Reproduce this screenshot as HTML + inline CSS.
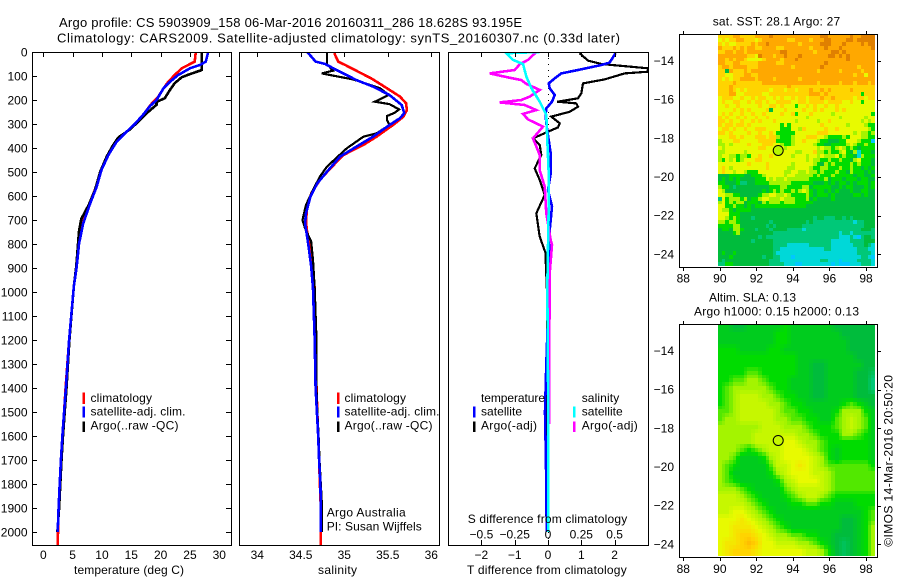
<!DOCTYPE html>
<html lang="en">
<head>
<meta charset="utf-8">
<title>Argo profile</title>
<style>
html,body{margin:0;padding:0;background:#fff;}
svg{display:block;}
text{font-family:"Liberation Sans",Arial,sans-serif;font-size:12px;fill:#000;}
.t{font-size:13px;}
</style>
</head>
<body>
<svg id="chart" xmlns="http://www.w3.org/2000/svg" width="900" height="580" viewBox="0 0 900 580">
<rect x="0" y="0" width="900" height="580" fill="#fff"/>
<text class="t" x="59" y="27" textLength="463" lengthAdjust="spacing">Argo profile: CS 5903909_158 06-Mar-2016 20160311_286 18.628S 93.195E</text>
<text class="t" x="57" y="42.5" textLength="563" lengthAdjust="spacing">Climatology: CARS2009. Satellite-adjusted climatology: synTS_20160307.nc (0.33d later)</text>

<g id="p1"></g>
<g id="p2"></g>
<g id="p3"></g>
<g id="m1"></g>
<g id="m2"></g>

<g>
<rect x="82.5" y="392.5" width="2.5" height="11.5" fill="#f00"/>
<rect x="82.5" y="406.5" width="2.5" height="11" fill="#00f"/>
<rect x="82.5" y="421.5" width="2.5" height="10.5" fill="#000"/>
<text x="90.5" y="402" textLength="61.5" lengthAdjust="spacing">climatology</text>
<text x="90.5" y="415.5" textLength="95" lengthAdjust="spacing">satellite-adj. clim.</text>
<text x="90.5" y="429.5" textLength="88" lengthAdjust="spacing">Argo(..raw -QC)</text>
</g>
<g>
<rect x="337" y="392.5" width="2.5" height="11.5" fill="#f00"/>
<rect x="337" y="406.5" width="2.5" height="11" fill="#00f"/>
<rect x="337" y="421.5" width="2.5" height="10.5" fill="#000"/>
<text x="344.5" y="402" textLength="61.5" lengthAdjust="spacing">climatology</text>
<text x="344.5" y="415.5" textLength="95" lengthAdjust="spacing">satellite-adj. clim.</text>
<text x="344.5" y="429.5" textLength="88" lengthAdjust="spacing">Argo(..raw -QC)</text>
<text x="326.7" y="516.7" textLength="79" lengthAdjust="spacing">Argo Australia</text>
<text x="326.7" y="530.7" textLength="95" lengthAdjust="spacing">PI: Susan Wijffels</text>
</g>
<g>
<text x="481" y="402" textLength="64" lengthAdjust="spacing">temperature</text>
<rect x="473" y="406.5" width="2.5" height="11" fill="#00f"/>
<text x="481" y="415.5" textLength="41" lengthAdjust="spacing">satellite</text>
<rect x="473" y="421.5" width="2.5" height="10.5" fill="#000"/>
<text x="481" y="429.5" textLength="56" lengthAdjust="spacing">Argo(-adj)</text>
<text x="581.7" y="402" textLength="37.5" lengthAdjust="spacing">salinity</text>
<rect x="573" y="406.5" width="2.5" height="11" fill="#0ff"/>
<text x="581.7" y="415.5" textLength="41" lengthAdjust="spacing">satellite</text>
<rect x="573" y="421.5" width="2.5" height="10.5" fill="#f0f"/>
<text x="581.7" y="429.5" textLength="56" lengthAdjust="spacing">Argo(-adj)</text>
</g>
<text x="74" y="574" textLength="110" lengthAdjust="spacing">temperature (deg C)</text>
<text x="318" y="574" textLength="39" lengthAdjust="spacing">salinity</text>
<text x="467.7" y="523" textLength="159.5" lengthAdjust="spacing">S difference from climatology</text>
<text x="467" y="574" textLength="159.7" lengthAdjust="spacing">T difference from climatology</text>
<text x="712.7" y="25.7" textLength="127.5" lengthAdjust="spacing">sat. SST: 28.1  Argo: 27</text>
<text x="709" y="301.7" textLength="87" lengthAdjust="spacing">Altim. SLA: 0.13</text>
<text x="694" y="315.7" textLength="165" lengthAdjust="spacing">Argo h1000: 0.15 h2000: 0.13</text>
<text transform="translate(892.5 546.7) rotate(-90)" x="0" y="0" textLength="171.7" lengthAdjust="spacing">©IMOS 14-Mar-2016 20:50:20</text>
</svg>
<script>
// ---------- profile data ----------
const depthTicks=[0,100,200,300,400,500,600,700,800,900,1000,1100,1200,1300,1400,1500,1600,1700,1800,1900,2000];
const tempTicks=[0,5,10,15,20,25,30];
const salTicks=[34,34.5,35,35.5,36];
const tDiffTicks=[-2,-1,0,1,2];
const sDiffTicks=[-0.5,-0.25,0,0.25,0.5];
const lonTicks=[88,90,92,94,96,98];
const latTicks=[-14,-16,-18,-20,-22,-24];

const tempClimDepth=[0,40,54,68,96,124,151,186,214,262,300,332,374,429,492,561,631,700,797,894,978,1200,1400,1500,1600,1700,1800,1900,2000,2054];
const tempClim=[26.0,25.8,24.7,23.6,22.4,21.3,20.5,19.6,18.5,17.0,15.6,14.2,12.5,11.1,9.8,9.0,7.9,6.9,6.1,5.7,5.2,4.4,3.8,3.55,3.25,3.0,2.8,2.6,2.5,2.45];
const tempSatDepth=[0,40,54,68,96,124,151,200,225,262,300,332,374,429,492,561,631,714,797,894,978,1200,1400,1500,1600,1700,1800,1900,2000];
const tempSat=[28.1,27.7,26.7,25.0,23.0,21.6,20.5,19.3,18.2,17.0,15.6,14.2,12.5,11.1,9.9,9.1,8.0,6.8,6.1,5.7,5.2,4.4,3.85,3.55,3.25,3.0,2.8,2.6,2.45];
const tempArgoDepth=[0,75,78,92,105,130,158,193,208,220,249,290,322,356,388,436,499,576,639,694,743,840,896,978,1200,1400,1500,1600,1700,1800,1900,2000];
const tempArgo=[27.0,27.0,26.7,25.0,23.6,22.4,21.6,20.7,19.3,19.3,17.9,16.2,14.8,12.8,11.9,10.8,9.7,8.8,7.7,6.5,6.1,5.8,5.6,5.2,4.45,3.95,3.65,3.35,3.1,2.9,2.7,2.4];

const salClimDepth=[5,40,54,82,110,151,186,214,242,269,304,353,387,429,485,533,589,658,707,742,825,922,985,1200,1400,1500,1600,1700,1800,1900,2000,2054];
const salClim=[34.885,34.93,35.01,35.16,35.31,35.49,35.64,35.71,35.72,35.68,35.56,35.37,35.22,34.99,34.84,34.72,34.62,34.57,34.56,34.57,34.61,34.64,34.66,34.67,34.68,34.69,34.70,34.71,34.72,34.73,34.73,34.73];
const salSatDepth=[0,40,50,75,117,144,179,221,255,276,304,353,394,436,499,547,603,672,714,811,894,985,1200,1400,1500,1600,1700,1800,1900,2000];
const salSat=[34.575,34.67,34.78,34.91,35.14,35.33,35.52,35.66,35.69,35.64,35.52,35.33,35.14,34.95,34.80,34.69,34.61,34.56,34.55,34.59,34.62,34.64,34.66,34.67,34.685,34.70,34.71,34.725,34.73,34.73];
const salArgoDepth=[0,50,78,89,96,114,128,151,179,207,217,239,253,267,283,304,339,353,401,478,519,575,637,700,735,790,867,985,1200,1400,1500,1600,1700,1800,1900,2000];
const salArgo=[34.80,34.80,34.87,34.74,34.835,35.10,35.22,35.41,35.51,35.35,35.52,35.63,35.58,35.49,35.49,35.52,35.37,35.22,35.03,34.80,34.72,34.64,34.56,34.52,34.55,34.62,34.64,34.66,34.68,34.68,34.69,34.705,34.715,34.73,34.745,34.74];

const tDiffSatDepth=[5,44,54,75,89,110,131,151,179,207,235,262,297,367,422,506,575,644,700,783,867,985,1100,1300,1500,1650,1800,2000];
const tDiffSat=[2.03,1.85,1.6,0.9,0.4,0.2,0.02,0.05,0.2,0.12,-0.05,-0.07,-0.05,0.02,0.08,0.08,0,0.12,0.08,0.02,0.06,0.05,0,-0.05,-0.09,-0.07,-0.05,-0.04];
const tDiffArgoDepth=[5,36,50,68,82,89,114,131,172,193,207,214,228,249,269,297,314,332,360,387,429,485,533,596,672,769,839,867,1000,1500,1900,2000];
const tDiffArgo=[0.95,1.2,1.6,3.0,3.0,2.3,1.7,1.05,1.0,0.9,0.28,0.85,0.9,0.65,0.1,0.35,0.3,0,-0.45,-0.25,-0.2,-0.4,-0.25,-0.1,-0.35,-0.25,-0.07,-0.07,-0.03,-0.02,-0.06,-0.03];
const sDiffArgoDepth=[0,33,50,75,89,106,117,133,158,186,200,210,221,242,258,281,311,360,429,492,561,672,783,804,922,985,1200,1400,1550];
const sDiffArgo=[-0.0875,-0.15,-0.21,-0.25,-0.4375,-0.30,-0.2,-0.1625,-0.0625,-0.1375,-0.2,-0.3625,-0.175,-0.0875,-0.1875,-0.15,-0.0375,-0.1125,-0.0625,-0.0625,-0.025,-0.0125,0.02,0.03,0.0125,0.0125,0.01,0.01,0.01];
const sDiffSatDepth=[0,5,33,50,103,151,207,262,367,506,644,985,1500,1800,2000];
const sDiffSat=[-0.0625,-0.3125,-0.2625,-0.1875,-0.1625,-0.125,-0.0625,-0.0125,-0.005,0.005,0.005,-0.005,0.0025,0.0025,0.0025];

// ---------- map data: colour levels 0 (coolest) to 9 (warmest) ----------
const argoSstLevel=5.3;
const argoSlaLevel=5.5;
const argoLon=93.195;
const argoLat=-18.628;
const levelColors=["#00c8ff","#00d8d8","#00c878","#00bc3c","#00dc00","#a4f400","#e8fa00","#ffd400","#ffa800","#e08000"];
const sstGrid=[
[7,7,7,7,8,8,7,7,7,7,8,8,8,8,9,8,8,8,8,8,8,8,8,8,8,8,8,8,9,9,8,8,8,8,8,8,9,8,8,9,9,9,9],
[6,7,6,7,7,8,8,7,7,7,6,7,8,8,8,8,8,8,8,7,7,8,8,8,8,7,8,8,8,9,9,8,8,8,8,9,9,8,9,9,9,9,9],
[7,6,7,6,6,7,7,7,7,8,7,8,8,9,8,8,8,8,8,8,8,8,7,8,8,8,8,8,9,9,9,8,8,8,9,8,8,8,8,9,8,9,9],
[8,7,7,7,8,7,8,7,8,8,7,7,8,8,8,8,7,7,8,8,8,8,8,8,8,7,8,8,8,9,8,8,8,9,8,8,8,8,8,8,8,8,9],
[7,7,8,8,7,8,8,7,8,8,8,8,8,8,8,8,8,9,9,8,8,8,8,8,8,8,7,8,8,8,8,9,9,8,9,8,8,8,8,8,8,8,8],
[8,8,8,8,8,8,8,8,7,7,6,9,8,8,8,7,8,8,9,8,8,8,9,8,8,8,8,8,8,8,9,9,8,9,8,9,8,8,8,8,8,8,8],
[8,8,7,8,7,8,8,7,6,6,6,6,7,8,8,8,8,7,8,8,8,9,8,8,8,8,8,8,8,8,8,8,8,8,8,9,8,8,8,8,8,8,8],
[8,8,7,7,8,8,7,7,7,7,7,8,8,8,8,8,7,7,8,8,8,8,8,8,8,8,8,8,8,9,8,8,8,8,8,8,8,8,8,8,8,8,8],
[7,8,8,7,8,8,8,8,7,7,7,8,8,8,8,8,8,8,8,8,7,8,8,8,8,8,8,8,9,8,8,8,8,8,8,8,8,8,7,8,8,8,8],
[7,7,3,8,7,7,7,8,7,8,8,8,8,8,8,8,8,8,8,8,8,8,8,8,8,8,8,7,8,8,8,8,8,7,8,8,8,8,8,7,8,8,8],
[7,7,6,6,7,7,7,8,8,7,7,8,8,8,8,8,8,8,8,8,8,8,8,8,8,8,8,8,8,8,8,8,8,8,8,8,8,7,8,8,6,8,8],
[7,6,7,6,7,7,8,8,8,8,7,8,8,8,8,7,8,8,8,8,8,8,7,8,8,8,8,8,8,8,8,8,8,8,8,8,8,8,8,8,8,8,8],
[7,7,7,7,8,7,7,7,7,7,7,7,8,8,8,8,8,8,8,8,8,8,8,8,8,8,8,7,8,8,8,8,8,7,8,8,8,7,8,8,8,7,8],
[7,7,7,8,7,7,7,7,7,7,7,7,7,7,7,7,7,7,7,8,7,7,7,7,7,7,7,7,7,7,7,7,7,7,7,7,7,7,7,7,7,7,7],
[7,7,7,8,7,6,7,6,7,7,7,7,7,7,6,7,7,7,6,7,7,6,7,7,7,8,7,7,8,7,8,7,7,7,7,7,8,7,7,7,7,7,7],
[7,7,7,8,8,6,6,7,7,7,7,7,6,6,7,7,7,7,7,7,7,7,7,7,7,8,8,8,7,8,7,7,7,7,7,7,7,7,7,4,7,7,7],
[6,7,7,7,6,6,7,6,6,7,6,7,7,6,6,7,6,7,6,6,7,6,7,7,6,7,7,7,8,7,7,8,7,7,7,7,7,6,7,7,6,7,7],
[6,7,6,6,7,7,6,6,7,6,7,7,6,7,6,6,7,7,7,7,6,6,7,7,6,7,7,7,7,6,7,7,7,7,6,6,7,6,6,4,6,6,6],
[6,6,7,6,6,7,6,6,6,6,6,7,6,6,7,7,6,7,6,6,6,4,6,6,7,6,7,6,6,7,6,6,7,6,6,6,6,6,6,6,6,6,6],
[6,6,6,6,7,6,7,6,7,6,6,6,6,7,3,6,6,6,7,6,6,6,6,7,6,6,7,6,7,6,6,6,7,6,7,6,6,6,6,6,6,6,6],
[6,7,6,7,6,6,7,6,6,7,6,6,7,6,6,6,6,7,6,6,7,4,6,6,6,7,6,6,6,6,6,5,6,6,6,6,6,6,6,6,6,6,4],
[7,6,7,6,6,7,6,7,6,6,7,6,6,7,6,6,6,6,6,6,6,6,6,6,5,6,6,6,6,6,6,6,6,5,6,6,6,6,6,6,5,6,6],
[7,7,6,7,6,6,7,6,6,7,6,7,6,6,6,7,6,6,6,6,6,5,6,6,6,6,6,5,6,6,7,6,6,6,6,6,6,6,6,5,6,5,6],
[7,6,7,7,6,7,7,6,7,6,6,6,6,6,6,6,6,4,6,4,6,6,6,6,6,6,6,6,7,6,6,6,6,6,6,5,6,6,6,6,5,4,4],
[6,7,7,6,7,6,6,7,6,6,7,7,7,6,6,6,6,4,4,4,6,6,5,7,6,6,6,6,6,7,6,6,7,6,6,6,6,6,6,6,6,5,4],
[7,7,6,7,6,6,6,6,7,6,6,7,6,6,7,6,4,4,4,4,4,6,6,6,6,6,6,7,7,7,6,6,6,6,6,6,6,5,6,5,5,4,5],
[6,6,6,7,7,6,7,6,6,6,7,7,7,6,7,7,5,4,4,4,5,6,6,6,7,7,7,6,6,5,4,4,4,4,5,4,6,6,6,5,5,4,4],
[5,6,6,6,7,7,6,6,6,6,6,7,7,7,7,7,4,4,4,4,5,6,6,7,6,6,6,5,4,4,3,3,3,4,4,6,6,6,5,4,4,4,0],
[5,5,6,5,6,6,6,6,7,6,6,6,7,7,7,6,6,5,4,4,5,6,6,6,6,6,5,4,4,3,3,4,4,4,4,5,6,5,4,4,5,4,4],
[6,5,6,6,6,6,6,6,6,6,6,7,7,6,6,6,6,6,5,6,6,6,6,6,6,6,6,5,6,5,5,4,5,6,5,4,5,4,3,4,4,4,4],
[5,5,6,6,6,6,6,5,6,6,6,6,6,6,6,6,7,6,6,6,6,5,5,6,6,6,7,5,5,4,5,4,4,5,6,4,3,5,1,4,4,4,3],
[5,6,6,5,5,4,5,5,4,6,6,7,6,6,7,6,6,6,6,6,5,6,6,6,5,6,6,5,6,5,5,5,6,4,5,4,4,3,1,5,4,4,4],
[5,4,6,5,6,4,5,6,6,6,7,7,6,6,6,6,6,6,6,6,6,6,6,6,5,6,5,5,4,4,5,4,4,5,4,4,3,5,6,4,4,4,3],
[6,6,6,6,6,6,6,6,7,6,6,6,6,7,6,6,6,6,6,6,5,6,6,6,6,6,5,4,3,5,4,5,4,4,4,4,5,4,5,4,4,4,3],
[6,7,6,5,6,6,6,6,6,6,6,6,6,7,6,6,6,6,6,5,5,6,6,6,6,5,4,4,5,5,4,4,4,5,4,4,5,4,4,3,4,3,4],
[6,7,6,6,5,6,6,5,4,4,4,6,6,6,6,6,6,6,5,5,6,6,5,5,6,5,5,4,5,4,4,4,5,4,4,3,5,4,4,4,3,4,3],
[3,3,3,4,4,4,4,3,3,4,4,4,5,6,6,6,6,6,5,6,6,5,5,5,5,5,4,5,4,4,4,5,4,4,4,4,4,3,4,4,3,3,4],
[3,4,3,4,3,4,3,3,3,3,4,4,4,6,5,6,5,5,6,5,5,5,5,5,5,4,4,4,4,5,3,4,4,4,3,4,4,4,3,4,4,3,3],
[4,4,3,3,3,4,2,2,3,3,4,4,4,4,5,5,5,5,5,5,4,4,4,4,4,4,3,3,3,4,3,4,3,4,4,3,4,3,4,4,4,3,4],
[5,4,4,3,2,3,3,3,3,3,3,3,3,3,4,4,4,5,5,4,4,4,4,5,5,3,4,4,4,4,4,3,3,4,3,4,4,3,3,3,4,3,4],
[6,5,3,3,3,3,3,3,3,3,3,3,4,3,4,5,4,5,4,4,5,4,5,6,5,4,3,4,4,3,4,3,4,3,3,3,4,3,3,4,4,3,3],
[6,6,5,5,4,4,3,3,3,3,3,4,5,5,6,6,5,5,6,5,4,4,4,4,5,4,3,4,4,4,3,4,3,3,3,3,3,4,4,3,4,3,3],
[2,6,4,5,5,5,4,5,3,4,4,5,6,6,5,5,5,6,5,5,5,4,4,4,5,3,4,3,3,3,3,4,3,3,3,3,3,3,3,3,3,3,3],
[5,6,4,5,4,5,5,3,4,4,4,3,5,4,5,5,5,4,5,5,5,4,4,4,4,4,3,3,3,3,3,3,3,3,3,3,3,3,3,3,3,3,3],
[6,6,4,4,5,4,4,3,4,3,4,4,4,4,4,4,4,4,4,4,4,4,4,4,3,3,3,3,3,3,3,3,3,3,3,3,3,3,3,3,3,3,3],
[6,5,5,4,3,4,4,4,4,3,3,3,3,3,3,3,3,3,3,3,3,3,3,3,3,3,3,3,3,3,3,3,3,3,3,3,3,3,3,3,3,3,3],
[6,6,6,4,4,4,3,3,3,3,3,3,3,3,3,3,3,3,3,3,3,3,3,3,3,3,3,3,3,3,3,3,3,3,3,3,3,3,3,3,3,3,3],
[6,6,5,4,5,4,3,3,3,2,3,3,3,3,3,3,3,3,3,3,3,3,3,3,3,3,2,3,3,2,2,2,3,3,2,3,2,3,3,3,3,3,3],
[5,5,4,5,5,4,3,3,3,3,3,3,3,3,2,3,3,3,3,3,3,3,3,3,2,3,2,2,2,2,2,2,2,2,2,2,2,1,2,2,3,3,3],
[4,4,4,4,5,5,3,3,3,3,3,3,3,2,3,2,3,3,3,3,3,3,3,2,2,2,2,2,2,2,2,2,2,2,2,2,2,2,2,2,3,3,3],
[3,4,4,3,5,5,4,3,3,3,2,3,3,3,2,3,3,3,3,2,2,2,2,1,2,2,2,2,2,2,2,2,2,2,2,2,2,2,2,3,3,3,2],
[3,3,3,3,4,5,3,3,3,3,3,3,3,3,3,2,2,2,2,2,2,2,2,2,2,2,2,2,2,2,2,2,2,1,2,2,1,2,2,2,2,2,2],
[3,3,3,3,3,3,3,3,3,3,3,2,3,2,2,2,2,2,2,2,2,2,2,2,2,2,2,2,2,2,2,2,2,1,1,1,2,1,0,2,3,3,2],
[3,3,3,3,3,3,3,3,3,2,3,3,3,3,3,2,2,2,2,2,2,2,2,2,2,2,2,2,2,2,2,1,1,1,1,1,2,2,2,2,3,3,3],
[3,3,3,3,3,3,3,3,3,3,3,3,3,3,3,2,2,2,2,1,1,1,1,1,1,2,2,2,2,2,2,1,1,1,1,1,1,2,2,2,3,2,1],
[3,3,3,3,3,3,3,3,3,3,3,3,3,3,3,2,2,1,1,1,1,1,1,1,1,1,1,1,1,2,2,1,1,1,1,1,1,1,2,2,2,1,1],
[3,4,3,3,4,3,3,3,3,3,3,3,3,3,3,2,1,1,1,1,1,1,1,1,1,1,1,1,1,1,1,1,1,1,1,1,1,1,2,2,2,2,1],
[3,3,3,4,3,3,3,3,3,3,3,3,2,3,3,2,2,1,1,1,0,1,1,1,1,1,1,1,1,1,1,1,1,1,1,1,1,1,1,2,2,1,0],
[3,2,3,3,3,3,3,3,3,3,3,3,3,3,2,2,2,1,1,1,1,1,1,1,1,1,1,1,2,2,1,1,1,0,1,1,1,1,2,2,2,2,1],
[2,2,4,4,3,3,3,3,3,3,3,3,3,3,2,2,2,2,1,1,1,0,0,1,1,1,1,1,1,1,1,0,1,0,0,0,1,1,1,2,2,2,1]
];
const slaGrid=[
[3.5,3.5,3,3,3.5,3.5,3.5,3.5,3.5,4,3.5,3.5,3.5,3.5,3.5,3.5,3,3,3,3,3,3],
[3.5,3.5,3.5,3.5,3.5,3.5,3.5,3.5,4,4,3.5,3.5,3.5,3.5,3.5,3.5,3.5,3,3,3,3,3],
[3.5,3.5,3.5,3.5,3.5,3.5,3.5,3.5,4,4,3.5,3.5,3.5,3.5,3.5,3.5,3.5,3.5,3,3,3,3],
[4,4,4,3.5,3.5,3.5,3.5,4,4,3.5,3.5,3.5,3.5,3.5,3.5,3.5,3.5,3.5,3,3,3,3],
[4,4,4,4,4,4,4,4,4,4,4,3.5,3.5,3.5,3.5,3.5,3.5,3.5,3.5,3,3,3],
[4,4,4,4,4,4,4,4,4,4,4,3.5,3.5,3,3,3.5,3.5,3.5,3.5,3.5,3,3],
[4,4,4,4,4.5,4.5,4,4,4,4,4,3.5,3.5,3,3,3.5,3.5,3.5,3.5,3,3,2.5],
[4,4,4.5,4.5,5,5,4.5,4,4,4,3.5,3.5,3.5,3,3,3.5,3.5,3.5,3.5,3,3,2],
[4,4.5,5,5,5,5,5,4.5,4,4,3.5,3.5,3.5,3,3,3.5,3.5,3.5,3.5,3,3,2],
[4,4.5,5,5.5,5.5,5.5,5,5,4.5,4,4,3.5,3.5,3,3,3.5,3.5,3.5,3.5,3,3,3],
[4,4.5,5,5.5,5.5,5.5,5.5,5,5,4.5,4,4,3.5,3.5,3.5,3.5,3.5,4,4.5,4,3.5,3],
[4.5,4.5,5,5.5,5.5,5.5,5.5,5.5,5,4.5,4.5,4,4,3.5,3.5,3.5,4,5,5,5,4,3.5],
[4.5,5,5,5.5,5.5,5.5,5.5,5.5,5,5,4.5,4.5,4,4,3.5,3.5,4.5,5,5.5,5,4.5,3.5],
[5,5,5,5,5,5,5.5,5.5,5.5,5,5,5,4.5,4,4,4,4.5,5,5.5,5,4.5,3.5],
[5,5,5,5,5,5.5,5.5,5.5,5.5,5.5,5.5,5,5,4.5,4,4,4,5,5,4.5,4,3.5],
[5,5,5,5,5,5.5,5.5,5.5,5.5,6,6,5.5,5,5,4.5,4,4,4,4,4,4,3.5],
[5,5,5,4.5,4,4.5,5,5.5,5.5,6,6,6,5.5,5,4.5,4,3.5,4,4,4,4,3.5],
[5,5,4.5,3.5,3.5,3.5,4,5,5.5,6,6,6,6,5.5,5,4,3.5,4,4,4,4,3.5],
[5,4.5,4,3.5,3.5,3.5,3.5,4.5,5.5,5.5,6,6.5,6,5.5,5,4.5,4.5,4.5,4.5,4.5,4.5,4],
[5,4.5,3.5,3.5,3.5,3.5,3.5,4,5,5.5,6,6,6,5.5,5.5,5,4.5,4.5,4.5,4.5,4.5,4.5],
[5,4.5,4,3.5,3.5,3.5,3.5,3.5,4,5,5.5,6,6,6,5.5,5,4.5,4.5,4.5,4.5,4.5,4.5],
[5,5,5,4.5,4,3.5,3.5,3.5,3.5,4.5,5,5.5,5.5,5.5,5.5,5,4.5,4.5,4.5,4.5,4.5,4.5],
[5.5,5.5,5.5,5,4.5,4,3.5,3.5,3.5,4,4.5,5,5.5,5.5,5,4.5,4,4,4,4,4,4],
[5.5,5.5,5.5,5.5,5,4.5,4,3.5,3.5,3.5,4,4,4.5,4.5,4,4,3.5,3.5,3.5,4,4,4],
[5.5,5.5,6,6,5.5,5,4.5,4,3.5,3.5,3.5,3.5,3.5,3.5,3.5,3.5,3.5,3.5,3.5,3.5,4,4.5],
[6,6,6,6.5,6,5.5,5,4.5,4,3.5,3.5,3.5,3.5,3.5,3.5,3.5,3.5,3,3,3.5,4,4.5],
[6,6,6.5,6.5,6.5,6,5.5,5,4.5,4,3.5,3.5,3.5,3.5,3.5,3.5,3.5,3,3,3.5,4,5],
[6,6,6.5,7,7,6.5,6,5.5,5,5,4.5,4.5,4,4,3.5,3.5,3,3,3,3.5,4,5],
[6,6.5,6.5,7,7.5,7,6,6,5.5,5.5,5.5,5,5,4.5,4,3.5,3,2.5,3,3.5,4,5],
[6,6.5,7,7,7,6.5,6,6,6,6,6,6,5.5,5.5,5,4,3,2.5,3,3.5,4,5]
];

// ---------- axis functions ----------
const NS="http://www.w3.org/2000/svg";
const yDepth=d=>52+d*0.24;
const xTemp=t=>43.3+t*5.867;
const xSal=s=>257.3+(s-34)*87;
const xTDiff=t=>548+t*33.3;
const xSDiff=s=>548+s*133.2;
const xLon=lon=>683.3+(lon-88)*18.27;
const yLat1=lat=>61+(-14-lat)*19.33;
const yLat2=lat=>351+(-14-lat)*19.33;
const fmt=v=>String(v).replace("-","\u2212");

function mk(parent,tag,attrs){
  const el=document.createElementNS(NS,tag);
  for(const k in attrs) el.setAttribute(k,attrs[k]);
  parent.appendChild(el);
  return el;
}
function tick(parent,x1,y1,x2,y2){
  const el=mk(parent,"line",{x1:x1,y1:y1,x2:x2,y2:y2,stroke:"#000","stroke-width":1,"shape-rendering":"crispEdges"});
  
  
}
function label(parent,x,y,str,anchor){
  const el=mk(parent,"text",{x:x,y:y,"text-anchor":anchor});
  el.textContent=str;
  
  
}
function box(parent,x,y,w,h){
  const el=mk(parent,"rect",{x:x,y:y,width:w,height:h,fill:"none",stroke:"#000","stroke-width":1,"shape-rendering":"crispEdges"});
  
  
}
function line(parent,xs,ds,xf,color,width,clipId,name){
  const pts=xs.map((v,i)=>xf(v).toFixed(1)+","+yDepth(ds[i]).toFixed(1)).join(" ");
  const el=mk(parent,"polyline",{points:pts,fill:"none",stroke:color,"stroke-width":width,"stroke-linejoin":"miter","shape-rendering":"crispEdges","clip-path":"url(#"+clipId+")"});
  
  
}
function clip(svg,id,x,y,w,h){
  const c=mk(svg,"clipPath",{id:id});
  mk(c,"rect",{x:x,y:y,width:w,height:h});
}
function hex(c){return [parseInt(c.slice(1,3),16),parseInt(c.slice(3,5),16),parseInt(c.slice(5,7),16)];}
function levelColor(v){
  const l=Math.max(0,Math.min(levelColors.length-1,v));
  const i=Math.min(levelColors.length-2,Math.floor(l));
  const f=l-i;
  const a=hex(levelColors[i]),b=hex(levelColors[i+1]);
  return "rgb("+a.map((c,k)=>Math.round(c+(b[k]-c)*f)).join(",")+")";
}
function cell(parent,lon,lat,yLat,v){
  const x0=Math.round(xLon(lon)),x1=Math.round(xLon(lon+0.2));
  const y0=Math.round(yLat(lat)),y1=Math.round(yLat(lat-0.2));
  const el=mk(parent,"rect",{x:x0,y:y0,width:x1-x0,height:y1-y0,fill:levelColor(v),"shape-rendering":"crispEdges"});
  
  
}
function sampleSla(r,c){
  const fr=Math.min(slaGrid.length-1,r/2),fc=Math.min(slaGrid[0].length-1,c/2);
  const r0=Math.floor(fr),c0=Math.floor(fc);
  const r1=Math.min(slaGrid.length-1,r0+1),c1=Math.min(slaGrid[0].length-1,c0+1);
  const a=slaGrid[r0][c0]+(slaGrid[r0][c1]-slaGrid[r0][c0])*(fc-c0);
  const b=slaGrid[r1][c0]+(slaGrid[r1][c1]-slaGrid[r1][c0])*(fc-c0);
  return a+(b-a)*(fr-r0);
}

const svg=document.getElementById("chart");
clip(svg,"c1",32,52,200,494);
clip(svg,"c2",239,52,201,494);
clip(svg,"c3",448,52,201,494);

// ---------- temperature panel ----------
const p1=document.getElementById("p1");
line(p1,tempClim,tempClimDepth,xTemp,"#f00",2.6,"c1","climatology-line");
line(p1,tempArgo,tempArgoDepth,xTemp,"#000",2.6,"c1","argo-line");
line(p1,tempSat,tempSatDepth,xTemp,"#00f",2.6,"c1","satellite-line");
box(p1,32.5,52.5,199,493);
depthTicks.forEach(d=>{
  const y=Math.round(yDepth(d))+0.5;
  tick(p1,32,y,37,y);
  tick(p1,226,y,231,y);
  label(p1,27.5,y+4,String(d),"end");
});
tempTicks.forEach(t=>{
  const x=Math.round(xTemp(t))+0.5;
  tick(p1,x,52,x,57);
  label(p1,xTemp(t),559,String(t),"middle");
});

// ---------- salinity panel ----------
const p2=document.getElementById("p2");
line(p2,salClim,salClimDepth,xSal,"#f00",2.6,"c2","climatology-line");
line(p2,salArgo,salArgoDepth,xSal,"#000",2.2,"c2","argo-line");
line(p2,salSat,salSatDepth,xSal,"#00f",2.6,"c2","satellite-line");
box(p2,239.5,52.5,200,493);
salTicks.forEach(s=>{
  const x=Math.round(xSal(s))+0.5;
  tick(p2,x,52,x,57);
  label(p2,xSal(s),559,String(s),"middle");
});

// ---------- difference panel ----------
const p3=document.getElementById("p3");
const zero=mk(p3,"line",{x1:548.5,y1:52,x2:548.5,y2:545,stroke:"#000","stroke-width":1,"stroke-dasharray":"1 5","shape-rendering":"crispEdges"});


line(p3,tDiffArgo,tDiffArgoDepth,xTDiff,"#000",2.2,"c3","t-argo-line");
line(p3,tDiffSat,tDiffSatDepth,xTDiff,"#00f",2.6,"c3","t-satellite-line");
line(p3,sDiffArgo,sDiffArgoDepth,xSDiff,"#f0f",2.6,"c3","s-argo-line");
line(p3,sDiffSat,sDiffSatDepth,xSDiff,"#0ff",2.6,"c3","s-satellite-line");
box(p3,448.5,52.5,200,493);
tDiffTicks.forEach(t=>{
  const x=Math.round(xTDiff(t))+0.5;
  tick(p3,x,52,x,57);
  tick(p3,x,540,x,545);
  label(p3,xTDiff(t),559,fmt(t),"middle");
});
sDiffTicks.forEach(s=>{
  label(p3,xSDiff(s),538.7,fmt(s),"middle");
});

// ---------- map panels ----------
function drawMapFrame(g,top,bottom,yLat,labelY,level,cellsDrawer){
  cellsDrawer(g);
  const bx=mk(g,"rect",{x:679.5,y:top+0.5,width:198,height:bottom-top,fill:"none",stroke:"#000","stroke-width":1,"shape-rendering":"crispEdges"});
  
  
  lonTicks.forEach(lon=>{
    const x=Math.round(xLon(lon))+0.5;
    tick(g,x,top-3,x,top);
    tick(g,x,bottom+1,x,bottom+4);
    label(g,xLon(lon),labelY,String(lon),"middle");
  });
  latTicks.forEach(lat=>{
    const y=Math.round(yLat(lat))+0.5;
    tick(g,878,y,881,y);
    label(g,674,yLat(lat)+4,fmt(lat),"end");
  });
  const c=mk(g,"circle",{cx:xLon(argoLon),cy:yLat(argoLat),r:5,fill:levelColor(level),stroke:"#000","stroke-width":1});
  
  
}
drawMapFrame(document.getElementById("m1"),34,267,yLat1,282.7,argoSstLevel,g=>{
  sstGrid.forEach((row,r)=>row.forEach((v,c)=>cell(g,89.9+c*0.2,-12.62-r*0.2,yLat1,v)));
});
drawMapFrame(document.getElementById("m2"),324,557,yLat2,573,argoSlaLevel,g=>{
  for(let r=0;r<60;r++) for(let c=0;c<43;c++) cell(g,89.9+c*0.2,-12.62-r*0.2,yLat2,sampleSla(r,c));
});
</script>
</body>
</html>
